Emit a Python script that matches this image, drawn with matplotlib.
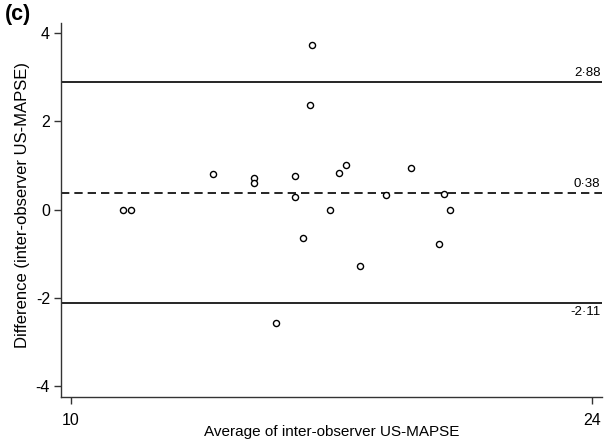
import matplotlib
matplotlib.use("Agg")
import matplotlib.pyplot as plt

# Data
avg = [11.41, 11.62, 13.81, 14.91, 14.91, 16.02, 16.02, 16.47, 16.41, 16.23,
       16.96, 17.21, 17.38, 17.76, 18.45, 19.13, 19.88, 20.03, 20.19, 15.52]
diff = [0.0, 0.0, 0.81, 0.71, 0.61, 0.75, 0.29, 3.72, 2.36, -0.65,
        0.0, 0.83, 1.0, -1.28, 0.34, 0.94, -0.79, 0.36, 0.0, -2.57]
upper_loa = 2.88
mean_diff = 0.38
lower_loa = -2.11
x_ticks = [10, 24]
y_ticks = [-4, -2, 0, 2, 4]

plt.rcParams['font.family'] = ['Liberation Sans', 'DejaVu Sans']

fig = plt.figure(figsize=(6.04, 4.45), dpi=100)
ax = fig.add_axes([61/604, 1-397/445, (602-61)/604, (397-23)/445])

ax.axhline(upper_loa, color='black', lw=1.2, zorder=1)
ax.axhline(lower_loa, color='black', lw=1.2, zorder=1)
ax.axhline(mean_diff, color='black', lw=1.2, ls=(0, (5, 3)), zorder=1)

ax.plot(avg, diff, ls='none', marker='o', ms=4.4, mfc='white', mec='black',
        mew=1.0, zorder=3)

ax.set_xlim(9.74, 24.26)
ax.set_ylim(-4.24, 4.22)
ax.set_xticks(x_ticks)
ax.set_yticks(y_ticks)
ax.set_xticklabels([str(v) for v in x_ticks])
ax.set_yticklabels([str(v) for v in y_ticks])

for s in ['top', 'right']:
    ax.spines[s].set_visible(False)
for s in ['left', 'bottom']:
    ax.spines[s].set_linewidth(1.0)
    ax.spines[s].set_color('#333333')
ax.tick_params(axis='both', direction='out', length=5, width=1.0,
               color='#333333', labelsize=11.5)
ax.tick_params(axis='x', pad=6.5)
ax.tick_params(axis='y', pad=3)

ax.set_xlabel('Average of inter-observer US-MAPSE', fontsize=11, labelpad=-2)
ax.set_ylabel('Difference (inter-observer US-MAPSE)', fontsize=12, labelpad=4)
ax.yaxis.label.set_y(0.513)

trans = ax.get_yaxis_transform()
ax.text(0.997, upper_loa + 0.07, '2\u00b788', transform=trans, ha='right',
        va='bottom', fontsize=9.5)
ax.text(0.997, mean_diff + 0.07, '0\u00b738', transform=trans, ha='right',
        va='bottom', fontsize=9.5)
ax.text(0.997, lower_loa - 0.07, '-2\u00b711', transform=trans, ha='right',
        va='top', fontsize=9.5)

fig.text(5/604, 1-4/445, '(c)', fontsize=15.5, fontweight='bold', ha='left',
         va='top')

fig.savefig('out.png', dpi=100)
